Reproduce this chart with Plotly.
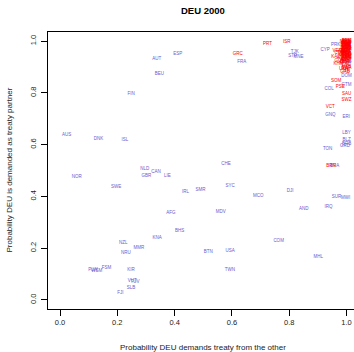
import plotly.graph_objects as go

# Countries where DEU is not the demander-dominant (blue labels)
blue_codes = ["AUT", "ESP", "BEU", "FIN", "AUS", "DNK", "ISL", "FRA", "TJK", "STP", "MNE",
              "CYP", "PRK", "BMB", "LBO", "DOM", "COL", "GTM", "GNQ", "ERI", "LBY", "BLZ",
              "BRB", "GRD", "TON", "NLD", "CAN", "GBR", "LIE", "NOR", "SWE", "IRL", "SMR",
              "AFG", "BHS", "KNA", "NZL", "MMR", "NRU", "FSM", "PLW", "WSM", "KIR", "VUT",
              "TUV", "SLB", "FJI", "CHE", "BRA", "SYC", "MCO", "DJI", "SUR", "MWI", "AND",
              "IRQ", "MDV", "COM", "BTN", "USA", "MHL", "TWN"]
blue_x = [0.338, 0.411, 0.347, 0.248, 0.023, 0.134, 0.226, 0.634, 0.819, 0.812, 0.832,
          0.925, 0.962, 1.000, 1.000, 1.000, 0.939, 1.000, 0.944, 0.999, 1.000, 1.000,
          1.000, 0.995, 0.934, 0.296, 0.335, 0.301, 0.375, 0.058, 0.196, 0.438, 0.490,
          0.387, 0.417, 0.339, 0.221, 0.275, 0.230, 0.162, 0.115, 0.128, 0.248, 0.252,
          0.262, 0.248, 0.211, 0.579, 0.958, 0.594, 0.692, 0.803, 0.965, 0.997, 0.851,
          0.937, 0.561, 0.763, 0.517, 0.594, 0.901, 0.593]
blue_y = [0.933, 0.950, 0.873, 0.795, 0.636, 0.622, 0.617, 0.921, 0.958, 0.942, 0.940,
          0.965, 0.985, 0.921, 0.907, 0.864, 0.817, 0.829, 0.713, 0.709, 0.647, 0.618,
          0.603, 0.597, 0.583, 0.508, 0.493, 0.481, 0.478, 0.474, 0.435, 0.416, 0.424,
          0.335, 0.266, 0.238, 0.219, 0.203, 0.180, 0.124, 0.116, 0.112, 0.116, 0.074,
          0.070, 0.048, 0.026, 0.524, 0.517, 0.439, 0.402, 0.420, 0.397, 0.393, 0.350,
          0.358, 0.340, 0.228, 0.184, 0.189, 0.165, 0.116]

# Countries demanded strongly (red labels)
red_codes = ["PRT", "ISR", "GRC", "SOM", "PSE", "SAU", "SWZ", "VCT", "BRN",
             "RUS", "CHN", "IND", "PAK", "IRN", "SYR", "LBN", "JOR", "EGY", "DZA",
             "MAR", "TUN", "SDN", "ETH", "YEM", "OMN", "ARE", "QAT", "KWT", "BHR",
             "CUB", "VEN", "NGA", "KAZ", "UZB", "UKR", "KHM", "GUY", "GAB", "HTI",
             "ARM", "AZE", "BLR", "GEO", "KGZ", "TKM", "MDA", "MNG", "LAO", "VNM",
             "IDN", "MYS", "PHL", "THA", "BGD", "LKA", "NPL", "AGO", "CMR", "CIV",
             "SEN", "GHA", "KEN", "TZA", "UGA", "ZWE", "ZMB", "MOZ", "NAM", "BWA"]
red_x = [0.724, 0.791, 0.620, 0.964, 0.978, 1.000, 1.000, 0.943, 0.946,
         1.000, 0.998, 1.000, 0.995, 1.000, 0.999, 1.000, 0.997, 1.000, 0.990,
         1.000, 0.985, 1.000, 0.993, 1.000, 0.998, 1.000, 0.996, 1.000, 0.994,
         0.975, 0.967, 0.985, 0.962, 1.000, 0.990, 0.972, 0.975, 0.995, 1.000,
         1.000, 0.999, 1.000, 0.998, 1.000, 0.997, 1.000, 0.999, 1.000, 0.996,
         1.000, 0.998, 1.000, 0.995, 1.000, 0.999, 0.992, 1.000, 0.997, 1.000,
         0.994, 1.000, 0.998, 1.000, 0.990, 1.000, 0.996, 1.000, 0.993, 1.000]
red_y = [0.991, 0.995, 0.952, 0.848, 0.822, 0.795, 0.772, 0.744, 0.517,
         1.000, 0.996, 0.992, 0.988, 0.984, 0.980, 0.976, 0.972, 0.968, 0.964,
         0.960, 0.956, 0.952, 0.948, 0.944, 0.940, 0.936, 0.930, 0.926, 0.918,
         0.955, 0.963, 0.935, 0.940, 0.900, 0.892, 0.911, 0.925, 0.880, 0.886,
         0.999, 0.997, 0.994, 0.990, 0.986, 0.982, 0.978, 0.974, 0.970, 0.966,
         0.962, 0.958, 0.954, 0.950, 0.946, 0.942, 0.998, 0.993, 0.987, 0.981,
         0.975, 0.969, 0.961, 0.953, 0.945, 0.938, 0.932, 0.922, 0.914, 0.896]

x_ticks = [0.0, 0.2, 0.4, 0.6, 0.8, 1.0]
y_ticks = [0.0, 0.2, 0.4, 0.6, 0.8, 1.0]

FONT = "Liberation Sans, Arial, sans-serif"
BLUE = "#6A5ACD"
RED = "#FF0000"

fig = go.Figure()
fig.add_trace(go.Scatter(x=blue_x, y=blue_y, text=blue_codes, mode="text",
                         textposition="middle center",
                         textfont=dict(family=FONT, size=4.5, color=BLUE),
                         hoverinfo="skip", showlegend=False, cliponaxis=False))
fig.add_trace(go.Scatter(x=red_x, y=red_y, text=red_codes, mode="text",
                         textposition="middle center",
                         textfont=dict(family=FONT, size=4.5, color=RED),
                         hoverinfo="skip", showlegend=False, cliponaxis=False))

axis_common = dict(showline=True, linecolor="black", linewidth=1, mirror=True,
                   ticks="outside", ticklen=6, tickcolor="black", tickwidth=1,
                   showgrid=False, zeroline=False, automargin=False,
                   tickfont=dict(family=FONT, size=7.5, color="#222222"),
                   tickformat=".1f")

fig.update_xaxes(range=[-0.042, 1.04], tickvals=x_ticks, **axis_common)
fig.update_yaxes(range=[-0.035, 1.035], tickvals=y_ticks, tickangle=-90,
                 ticklabelstandoff=2, **axis_common)

fig.update_layout(
    width=358, height=352,
    margin=dict(l=48, r=0, t=32, b=43),
    plot_bgcolor="white", paper_bgcolor="white",
    annotations=[
        dict(text="<b>DEU 2000</b>", xref="paper", yref="paper",
             x=0.5, y=1, yshift=22, showarrow=False, xanchor="center", yanchor="middle",
             font=dict(family=FONT, size=9.5, color="black")),
        dict(text="Probability DEU demands treaty from the other", xref="paper", yref="paper",
             x=0.5, y=0, yshift=-38, showarrow=False, xanchor="center", yanchor="middle",
             font=dict(family=FONT, size=8, color="#222222")),
        dict(text="Probability DEU is demanded as treaty partner", xref="paper", yref="paper",
             x=0, y=0.5, xshift=-39, showarrow=False, textangle=-90,
             xanchor="center", yanchor="middle",
             font=dict(family=FONT, size=8, color="#222222")),
    ],
)

fig.write_html("out.html", config={"displayModeBar": False},
               post_script="document.body.style.margin='0';document.body.style.overflow='hidden';")
